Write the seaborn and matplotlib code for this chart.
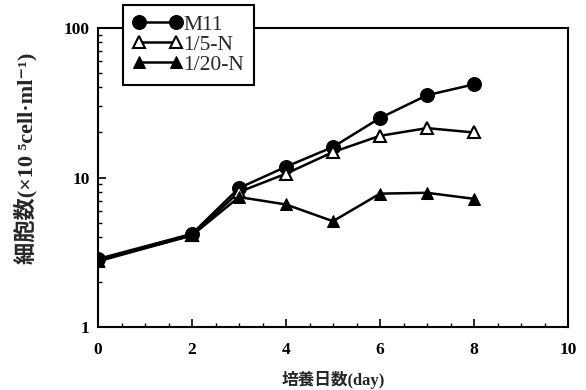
import numpy as np
import pandas as pd
import matplotlib
matplotlib.use('Agg')
import matplotlib.pyplot as plt
import seaborn as sns
from matplotlib.ticker import MultipleLocator, LogLocator, NullFormatter, FixedLocator, FixedFormatter

# data
days = [0, 2, 3, 4, 5, 6, 7, 8]
m11 = [2.85, 4.2, 8.5, 11.8, 16.0, 25.0, 35.5, 42.0]
n_1_5 = [2.75, 4.1, 8.0, 10.6, 14.8, 19.0, 21.4, 20.0]
n_1_20 = [2.8, 4.1, 7.4, 6.6, 5.1, 7.8, 7.9, 7.2]
series_names = ['M11', '1/5-N', '1/20-N']

sns.set_theme(style='ticks')
plt.rcParams['font.family'] = ['Liberation Serif', 'Noto Sans CJK JP', 'DejaVu Sans']
plt.rcParams['font.weight'] = 'bold'

fig = plt.figure(figsize=(5.86, 3.9), dpi=100)
ax = fig.add_axes([98 / 586, 1 - 327 / 390, 470 / 586, 299 / 390])

styles = [
    dict(marker='o', markersize=10, markerfacecolor='black', markeredgecolor='black'),
    dict(marker='^', markersize=8, markerfacecolor='white', markeredgecolor='black', markeredgewidth=1.5),
    dict(marker='^', markersize=8, markerfacecolor='black', markeredgecolor='black'),
]
for vals, name, st in zip([m11, n_1_5, n_1_20], series_names, styles):
    sns.lineplot(x=days, y=vals, ax=ax, color='black', linewidth=1.8, label=name, **st)

ax.set_yscale('log')
ax.set_xlim(0, 10)
ax.set_ylim(1, 100)
ax.xaxis.set_major_locator(MultipleLocator(2))
ax.xaxis.set_minor_locator(MultipleLocator(0.5))
ax.yaxis.set_major_locator(FixedLocator([1, 10, 100]))
ax.yaxis.set_major_formatter(FixedFormatter(['1', '10', '100']))
ax.yaxis.set_minor_locator(LogLocator(base=10, subs=np.arange(2, 10)))
ax.yaxis.set_minor_formatter(NullFormatter())

ax.tick_params(which='both', direction='in', colors='black', labelsize=12.5)
ax.tick_params(which='major', length=6, width=1.2)
ax.tick_params(which='minor', length=3, width=1)
ax.tick_params(axis='x', pad=11)
ax.tick_params(axis='y', pad=6)
for s in ax.spines.values():
    s.set_color('black')
    s.set_linewidth(1.5)

ax.set_xlabel('培養日数(day)', fontsize=12, fontweight='bold', labelpad=9)
ax.set_ylabel('細胞数(×10 ⁵cell·ml⁻¹)', fontsize=16, fontweight='bold')
ax.yaxis.set_label_coords(-0.128, 0.565)

leg = ax.legend(loc='upper left', bbox_to_anchor=(0.053, 1.077), frameon=True, fancybox=False,
                edgecolor='black', framealpha=1, numpoints=2, handlelength=2.3, handletextpad=0.05,
                borderpad=0.45, labelspacing=0.0, borderaxespad=0, prop={'size': 15.5, 'weight': 'normal'})
leg.get_frame().set_linewidth(1.5)

plt.savefig('out.png', dpi=100)
